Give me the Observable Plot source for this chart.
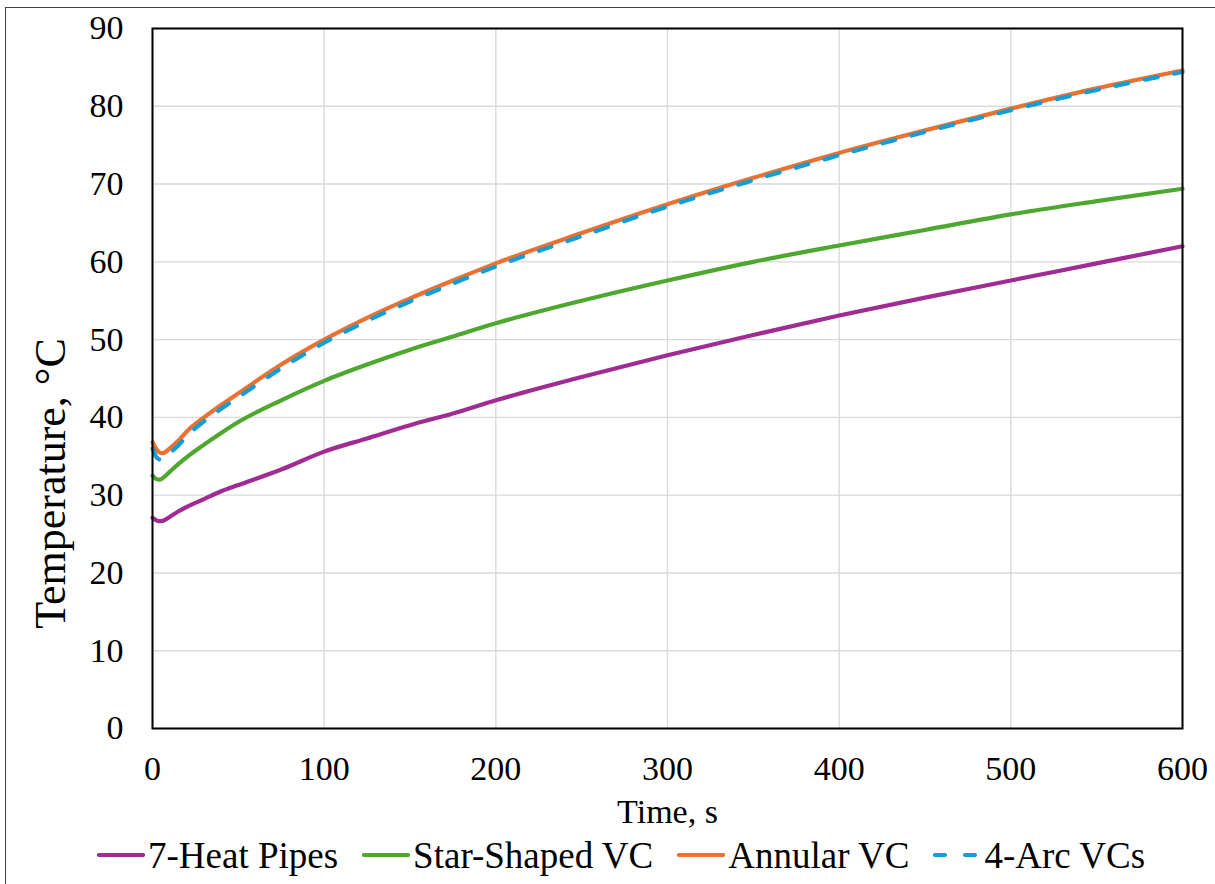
<!DOCTYPE html>
<html>
<head>
<meta charset="utf-8">
<script src="https://cdn.jsdelivr.net/npm/d3@7"></script>
<script src="https://cdn.jsdelivr.net/npm/@observablehq/plot@0.6"></script>
<style>
  html, body { margin: 0; padding: 0; background: #fff; overflow: hidden; width: 1215px; height: 884px; }
  #wrap { position: relative; width: 1215px; height: 884px; font-family: 'Liberation Serif', 'Times New Roman', serif; }
  #border { position: absolute; left: 5px; top: 7px; width: 1400px; height: 1000px; border: 1.5px solid #404040; box-sizing: border-box; pointer-events: none; }
  #chart { position: absolute; left: 0; top: 0; }
  #legend { position: absolute; left: 97px; top: 830px; height: 50px; display: flex; align-items: center; font-size: 37px; color: #000; white-space: nowrap; }
  .item { display: flex; align-items: center; margin-right: 24px; }
  .item svg { margin-right: 3px; }
</style>
</head>
<body>
<div id="wrap">
  <div id="border"></div>
  <div id="chart"></div>
  <div id="legend"></div>
</div>
<script>
// ---- data ----
const times = [0, 2, 4, 6, 10, 15, 20, 30, 40, 50, 75, 100, 125, 150, 175, 200, 250, 300, 350, 400, 450, 500, 550, 600];
const heatPipes7 = [27.1, 26.8, 26.65, 26.7, 27.2, 27.9, 28.5, 29.5, 30.5, 31.3, 33.3, 35.6, 37.3, 39.0, 40.5, 42.2, 45.2, 48.0, 50.6, 53.1, 55.4, 57.6, 59.8, 62.0];
const starShapedVC = [32.5, 32.1, 32.0, 32.2, 33.0, 34.0, 34.9, 36.5, 38.0, 39.4, 42.2, 44.7, 46.8, 48.7, 50.4, 52.1, 55.0, 57.6, 60.0, 62.1, 64.1, 66.1, 67.8, 69.4];
const annularVC = [36.8, 36.0, 35.5, 35.4, 36.0, 37.0, 38.2, 40.0, 41.6, 43.1, 46.8, 50.0, 52.8, 55.3, 57.6, 59.8, 63.7, 67.4, 70.8, 74.0, 76.9, 79.7, 82.3, 84.6];
const arcVCs4 = [36.0, 35.0, 34.6, 34.7, 35.4, 36.4, 37.6, 39.5, 41.1, 42.6, 46.3, 49.6, 52.4, 54.9, 57.2, 59.4, 63.3, 67.1, 70.5, 73.7, 76.7, 79.5, 82.1, 84.4];

const seriesNames = ["7-Heat Pipes", "Star-Shaped VC", "Annular VC", "4-Arc VCs"];
const seriesColors = ["#A02B93", "#4EA72E", "#E97132", "#0F9ED5"];
const seriesValues = [heatPipes7, starShapedVC, annularVC, arcVCs4];
const dashedSeries = ["4-Arc VCs"];

const xTicks = [0, 100, 200, 300, 400, 500, 600];
const yTicks = [0, 10, 20, 30, 40, 50, 60, 70, 80, 90];
const xLabel = "Time, s";
const yLabel = "Temperature, °C";

// ---- table ----
const rows = [];
seriesNames.forEach((name, i) => {
  times.forEach((t, j) => rows.push({series: name, time: t, temp: seriesValues[i][j]}));
});
const solidRows = rows.filter(d => !dashedSeries.includes(d.series));
const dashedRows = rows.filter(d => dashedSeries.includes(d.series));

const font = "Liberation Serif";

const chart = Plot.plot({
  width: 1215,
  height: 830,
  marginLeft: 152,
  marginRight: 33,
  marginTop: 28,
  marginBottom: 102,
  style: {fontFamily: font, background: "transparent", color: "#000", overflow: "visible"},
  x: {domain: [0, 600], ticks: xTicks, label: null},
  y: {domain: [0, 90], ticks: yTicks, label: null},
  color: {domain: seriesNames, range: seriesColors},
  marks: [
    Plot.gridX(xTicks, {stroke: "#d9d9d9", strokeOpacity: 1, strokeWidth: 1.4}),
    Plot.gridY(yTicks, {stroke: "#d9d9d9", strokeOpacity: 1, strokeWidth: 1.4}),
    Plot.line(solidRows, {x: "time", y: "temp", z: "series", stroke: "series", strokeWidth: 4.2, curve: "monotone-x"}),
    Plot.line(dashedRows, {x: "time", y: "temp", z: "series", stroke: "series", strokeWidth: 4.2, curve: "monotone-x", strokeDasharray: "13,17", strokeLinecap: "round"}),
    Plot.frame({stroke: "#000", strokeWidth: 2}),
    Plot.axisX(xTicks, {tickSize: 0, tickPadding: 27, fontSize: 34, fontFamily: font, fill: "#000", label: null}),
    Plot.axisY(yTicks, {tickSize: 0, tickPadding: 29, fontSize: 34, fontFamily: font, fill: "#000", label: null}),
    Plot.text([xLabel], {text: d => d, frameAnchor: "bottom", lineAnchor: "middle", textAnchor: "middle", dy: 84, fontSize: 34, fontFamily: font, fill: "#000"}),
    Plot.text([yLabel], {text: d => d, frameAnchor: "left", lineAnchor: "middle", textAnchor: "middle", dx: -102, dy: 105, rotate: -90, fontSize: 44, fontFamily: font, fill: "#000"})
  ]
});
document.getElementById("chart").appendChild(chart);

// ---- legend ----
const legend = d3.select("#legend");
seriesNames.forEach((name, i) => {
  const item = legend.append("div").attr("class", "item");
  const sw = item.append("svg").attr("width", 48).attr("height", 12);
  sw.append("line")
    .attr("x1", 2).attr("x2", 46).attr("y1", 6).attr("y2", 6)
    .attr("stroke", seriesColors[i]).attr("stroke-width", 4.2)
    .attr("stroke-linecap", "round")
    .attr("stroke-dasharray", dashedSeries.includes(name) ? "10,20" : null);
  item.append("span").text(name);
});
</script>
</body>
</html>
